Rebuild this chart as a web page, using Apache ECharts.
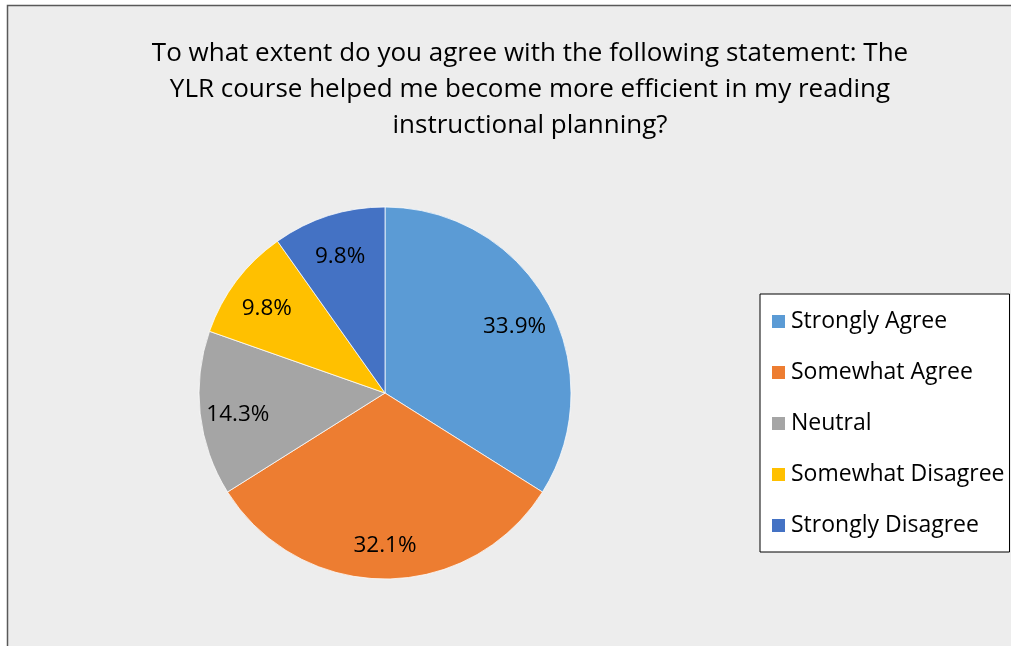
<!DOCTYPE html>
<html>
<head>
<meta charset="utf-8">
<script src="https://cdn.jsdelivr.net/npm/echarts@6/dist/echarts.min.js"></script>
<style>
  html, body { margin: 0; padding: 0; background: #ffffff; }
  #chart { width: 1011px; height: 646px; }
</style>
</head>
<body>
<div id="chart"></div>
<script>
// Survey responses (percent of respondents)
const categories = ['Strongly Agree', 'Somewhat Agree', 'Neutral', 'Somewhat Disagree', 'Strongly Disagree'];
const percentages = [33.9, 32.1, 14.3, 9.8, 9.8];
const sliceColors = ['#5B9BD5', '#ED7D31', '#A5A5A5', '#FFC000', '#4472C4'];
const titleLines = [
  'To what extent do you agree with the following statement: The',
  'YLR course helped me become more efficient in my reading',
  'instructional planning?'
];

const FONT = '"Open Sans", Lato, sans-serif';
const pieData = categories.map((name, i) => ({
  name: name,
  value: percentages[i],
  itemStyle: { color: sliceColors[i] }
}));

const chart = echarts.init(document.getElementById('chart'), null, { renderer: 'canvas' });
chart.setOption({
  backgroundColor: '#ffffff',
  animation: false,
  graphic: [{
    type: 'rect',
    z: -10,
    shape: { x: 7.5, y: 5.5, width: 1100, height: 700 },
    style: { fill: '#EDEDED', stroke: '#595959', lineWidth: 1.5 }
  }],
  title: {
    text: titleLines.join('\n'),
    left: 525,
    top: 31,
    textAlign: 'center',
    textStyle: {
      fontFamily: FONT,
      fontSize: 26,
      fontWeight: 'normal',
      color: '#000000',
      lineHeight: 36
    }
  },
  legend: {
    orient: 'vertical',
    left: 760,
    top: 294,
    data: categories,
    icon: 'rect',
    itemWidth: 15,
    itemHeight: 15,
    itemGap: 28,
    padding: [16, 5, 15, 10],
    backgroundColor: '#ffffff',
    borderColor: '#000000',
    borderWidth: 1,
    textStyle: { fontFamily: FONT, fontSize: 23, color: '#000000', lineHeight: 22 },
    selectedMode: false
  },
  series: [
    {
      type: 'pie',
      center: [385, 393],
      radius: [0, 186],
      startAngle: 90,
      clockwise: true,
      data: pieData,
      label: { show: false },
      labelLine: { show: false },
      itemStyle: { borderColor: '#ffffff', borderWidth: 0.75 },
      emphasis: { disabled: true }
    },
    {
      // label ring: places the percentage text inside each slice
      type: 'pie',
      center: [385, 393],
      radius: [104, 186],
      startAngle: 90,
      clockwise: true,
      silent: true,
      data: pieData.map(d => ({ name: d.name, value: d.value, itemStyle: { color: 'rgba(0,0,0,0)' } })),
      itemStyle: { borderWidth: 0 },
      label: {
        show: true,
        position: 'inside',
        offset: [0, 5],
        formatter: p => p.value.toFixed(1) + '%',
        fontFamily: FONT,
        fontSize: 22.5,
        color: '#000000'
      },
      labelLine: { show: false },
      emphasis: { disabled: true }
    }
  ]
});
</script>
</body>
</html>
